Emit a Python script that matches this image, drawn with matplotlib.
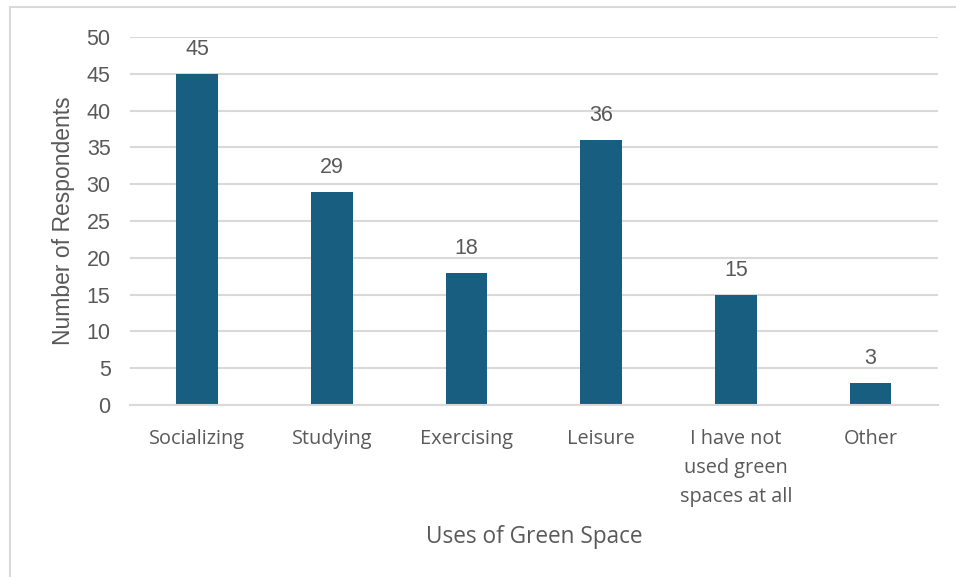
import matplotlib.pyplot as plt
from matplotlib.patches import Rectangle

categories = ["Socializing", "Studying", "Exercising", "Leisure",
              "I have not\nused green\nspaces at all", "Other"]
counts = [45, 29, 18, 36, 15, 3]
yticks = [0, 5, 10, 15, 20, 25, 30, 35, 40, 45, 50]

bar_color = "#175e80"
text_color = "#595959"
grid_color = "#d9d9d9"

fig = plt.figure(figsize=(9.56, 5.77), dpi=100)
ax = fig.add_axes([0.136, 0.298, 0.845, 0.638])

# chart frame
fig.patches.append(Rectangle((10 / 956, -0.05), 1.1, 1 - 7 / 577 + 0.05,
                             transform=fig.transFigure, fill=False,
                             edgecolor="#d9d9d9", linewidth=1.5))

x = range(len(categories))
bars = ax.bar(x, counts, width=0.31, color=bar_color, zorder=3)

for xi, v in zip(x, counts):
    ax.annotate(str(v), (xi, v), xytext=(0, 10), textcoords="offset points",
                ha="center", va="bottom", fontsize=15.5, color=text_color,
                family="Liberation Sans")

ax.set_ylim(0, 50)
ax.set_xlim(-0.5, len(categories) - 0.5)
ax.set_yticks(yticks)
ax.set_yticklabels([str(t) for t in yticks], family="Liberation Sans",
                   fontsize=15.5, color=text_color)
ax.set_xticks(list(x))
ax.set_xticklabels(categories, family="Open Sans", fontsize=14.3,
                   color=text_color, linespacing=1.6, va="top")
ax.tick_params(axis="both", length=0)
ax.tick_params(axis="x", pad=17)
ax.tick_params(axis="y", pad=14)

ax.grid(axis="y", color=grid_color, linewidth=1.5, zorder=0)
for s in ["top", "right", "left"]:
    ax.spines[s].set_visible(False)
ax.spines["bottom"].set_color(grid_color)
ax.spines["bottom"].set_linewidth(1.5)
ax.spines["bottom"].set_zorder(4)

ax.set_ylabel("Number of Respondents", family="Liberation Sans",
              fontsize=16.5, color=text_color)
ax.yaxis.set_label_coords(-0.068, 0.5)
ax.set_xlabel("Uses of Green Space", family="Open Sans", fontsize=16.3,
              color=text_color)
ax.xaxis.set_label_coords(0.5, -0.326)

fig.savefig("out.png", dpi=100)
